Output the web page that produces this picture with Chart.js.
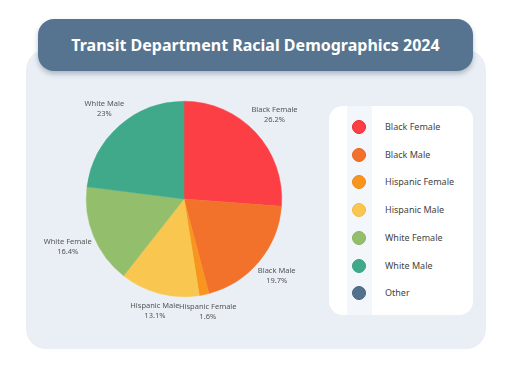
<!DOCTYPE html>
<html>
<head>
<meta charset="utf-8">
<script src="https://cdn.jsdelivr.net/npm/chart.js@4"></script>
<style>
  html, body { margin: 0; padding: 0; background: #ffffff; }
  body { width: 512px; height: 384px; position: relative; overflow: hidden; font-family: "Noto Sans", "Open Sans", sans-serif; }
  .card { position: absolute; left: 26px; top: 50px; width: 460px; height: 299px; background: #eaeff6; border-radius: 20px; }
  .title { position: absolute; left: 38px; top: 19px; width: 435px; height: 52px; background: #56748f; border-radius: 16px;
           box-shadow: 0 3px 5px rgba(60, 80, 110, 0.35); color: #fff; font-weight: bold; font-size: 16px;
           display: flex; align-items: center; justify-content: center; }
  #wrap { position: absolute; left: 26px; top: 50px; width: 316px; height: 298px; }
  .legend { position: absolute; left: 329px; top: 106px; width: 144px; height: 209px; background: #fff; border-radius: 14px; overflow: hidden; }
  .stripe { position: absolute; left: 18px; top: 0; width: 25px; height: 100%; background: #f3f6fa; }
  .dot { position: absolute; left: 23px; width: 14px; height: 14px; border-radius: 50%; box-sizing: border-box; }
  .lbl { position: absolute; left: 56px; font-size: 9px; color: #444; white-space: nowrap; }
</style>
</head>
<body>
<div class="card"></div>
<div class="title">Transit Department Racial Demographics 2024</div>
<div id="wrap"><canvas id="pie"></canvas></div>
<div class="legend" id="legend"><div class="stripe"></div></div>
<script>
const categories = ['Black Female', 'Black Male', 'Hispanic Female', 'Hispanic Male', 'White Female', 'White Male', 'Other'];
const percents = [26.2, 19.7, 1.6, 13.1, 16.4, 23, 0];
const percentLabels = ['26.2%', '19.7%', '1.6%', '13.1%', '16.4%', '23%', ''];
const colors = ['#fc3f45', '#f3722b', '#f8951f', '#f9c650', '#93bf6c', '#40a98a', '#52718f'];
const borders = ['#f0262e', '#e86420', '#ee8a14', '#f0ba40', '#86b45e', '#35a07f', '#46657f'];

// legend panel
const legend = document.getElementById('legend');
categories.forEach((name, i) => {
    const dot = document.createElement('div');
    dot.className = 'dot';
    dot.style.top = (14 + i * 27.7) + 'px';
    dot.style.background = colors[i];
    dot.style.border = '1px solid ' + borders[i];
    legend.appendChild(dot);
    const lbl = document.createElement('div');
    lbl.className = 'lbl';
    lbl.style.top = (14 + i * 27.7) + 'px';
    lbl.style.lineHeight = '14px';
    lbl.textContent = name;
    legend.appendChild(lbl);
});

// outside labels, pushed out from each arc so the text box clears the edge
const outsideLabels = {
    id: 'outsideLabels',
    afterDatasetsDraw(chart) {
        const ctx = chart.ctx;
        const meta = chart.getDatasetMeta(0);
        ctx.save();
        ctx.font = '7.5px "Noto Sans", sans-serif';
        ctx.fillStyle = '#555';
        ctx.textAlign = 'center';
        ctx.textBaseline = 'middle';
        meta.data.forEach((arc, i) => {
            if (!percents[i]) return;
            const p = arc.getProps(['x', 'y', 'startAngle', 'endAngle', 'outerRadius'], true);
            const mid = (p.startAngle + p.endAngle) / 2;
            const halfW = Math.max(ctx.measureText(categories[i]).width, ctx.measureText(percentLabels[i]).width) / 2;
            const halfH = 10;
            const c = Math.cos(mid), s = Math.sin(mid);
            const r = p.outerRadius + 2 + Math.abs(c) * halfW + Math.abs(s) * halfH;
            const x = p.x + c * r;
            const y = p.y + s * r;
            ctx.fillText(categories[i], x, y - 5);
            ctx.fillText(percentLabels[i], x, y + 5);
        });
        ctx.restore();
    }
};

new Chart(document.getElementById('pie'), {
    type: 'pie',
    data: {
        labels: categories,
        datasets: [{
            data: percents,
            backgroundColor: colors,
            borderColor: colors,
            borderWidth: 0.5,
        }]
    },
    options: {
        responsive: true,
        maintainAspectRatio: false,
        animation: false,
        layout: { padding: { top: 51, bottom: 51 } },
        plugins: { legend: { display: false }, tooltip: { enabled: false } },
    },
    plugins: [outsideLabels]
});
</script>
</body>
</html>
